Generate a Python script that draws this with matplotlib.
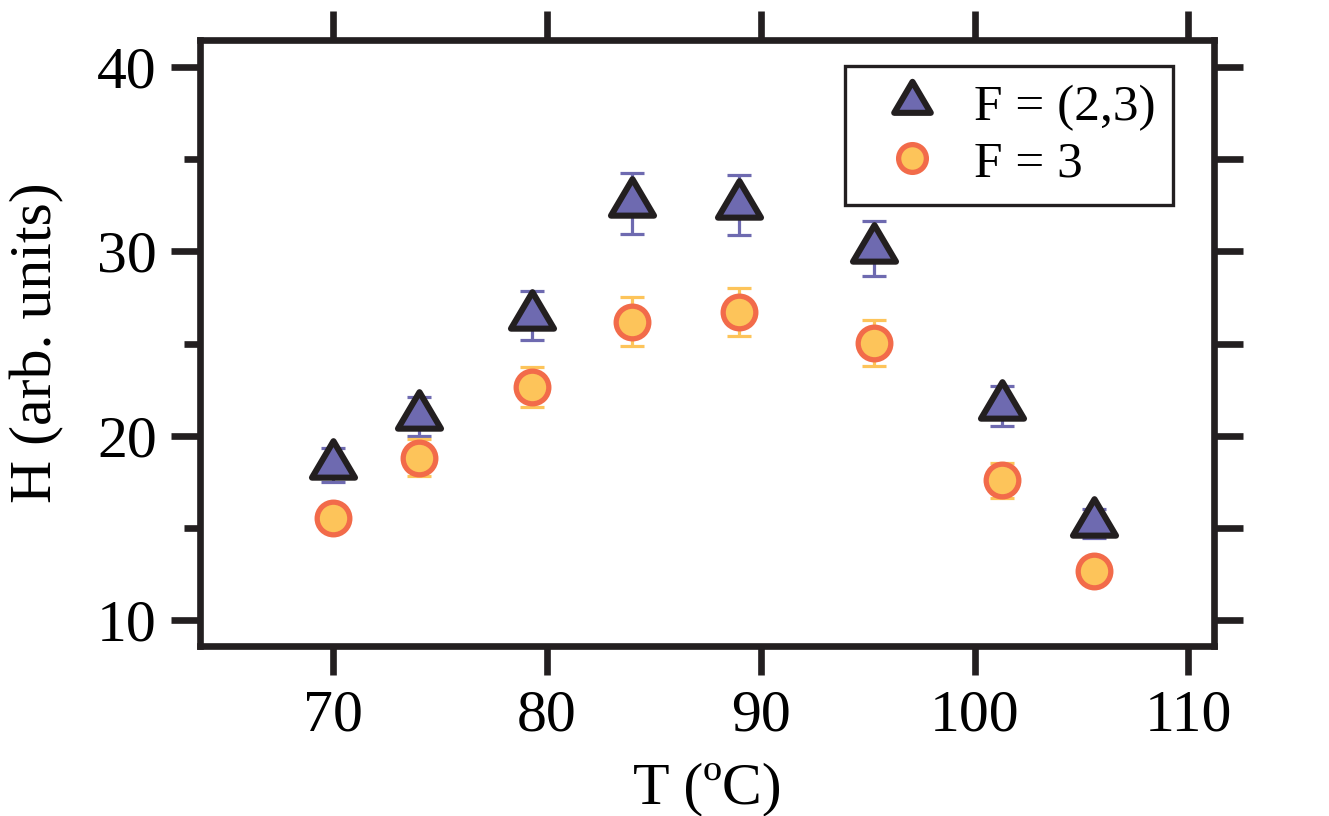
import numpy as np
import matplotlib
matplotlib.use('Agg')
from matplotlib import pyplot as plt
from matplotlib.path import Path
from matplotlib.markers import MarkerStyle

# Data
temp = [70.0, 74.0, 79.3, 84.0, 89.0, 95.3, 101.3, 105.6]
h_f23 = [18.42, 21.05, 26.52, 32.60, 32.51, 30.14, 21.61, 15.24]
err_f23 = [0.92, 1.06, 1.33, 1.63, 1.63, 1.50, 1.09, 0.81]
h_f3 = [15.55, 18.81, 22.64, 26.19, 26.72, 25.02, 17.59, 12.64]
err_f3 = [0.55, 1.00, 1.09, 1.31, 1.32, 1.25, 0.95, 0.50]

purple = '#6E6AB0'
dark = '#231F20'
yellow = '#FDC45A'
orange = '#F26B4A'

plt.rcParams['font.family'] = ['Liberation Serif', 'DejaVu Serif']

fig = plt.figure(figsize=(13.29, 8.16), dpi=100)
ax = fig.add_axes([0.1505, 0.2083, 0.763, 0.7427])

# triangle centred on its centroid (like the original software)
tri = MarkerStyle(Path([(0, 2/3), (-0.59, -1/3), (0.59, -1/3), (0, 2/3)],
                       [Path.MOVETO, Path.LINETO, Path.LINETO, Path.CLOSEPOLY]),
                  joinstyle='miter')

ax.errorbar(temp, h_f23, yerr=err_f23, fmt='none', ecolor=purple,
            elinewidth=2.3, capsize=8.3, capthick=2.3, zorder=2)
ax.plot(temp, h_f23, ls='none', marker=tri, ms=35, mfc=purple, mec=dark,
        mew=4.4, label='F = (2,3)', zorder=3)
ax.errorbar(temp, h_f3, yerr=err_f3, fmt='none', ecolor=yellow,
            elinewidth=2.3, capsize=8.3, capthick=2.3, zorder=2)
ax.plot(temp, h_f3, ls='none', marker='o', ms=23.5, mfc=yellow, mec=orange,
        mew=3.8, label='F = 3', zorder=3)

ax.set_xlim(63.78, 111.2)
ax.set_ylim(8.59, 41.47)
ax.set_xticks(np.arange(70, 111, 10))
ax.set_yticks(np.arange(10, 41, 10))
ax.set_yticks(np.arange(15, 40, 10), minor=True)

for s in ax.spines.values():
    s.set_linewidth(4.8)
    s.set_color(dark)

ax.tick_params(which='major', direction='out', length=21, width=4.8,
               color=dark, labelsize=43, pad=10)
ax.tick_params(which='minor', direction='out', length=11.5, width=4.8,
               color=dark)
ax.tick_params(axis='x', which='minor', bottom=False)

# outward ticks on top and right, no labels
top = ax.secondary_xaxis('top')
top.set_xticks(np.arange(70, 111, 10))
top.tick_params(direction='out', length=21, width=4.8, color=dark,
                labeltop=False)
top.spines['top'].set_visible(False)
right = ax.secondary_yaxis('right')
right.set_yticks(np.arange(10, 41, 5))
right.tick_params(direction='out', length=21, width=4.8, color=dark,
                  labelright=False)
right.spines['right'].set_visible(False)

ax.set_xlabel('T (ºC)', fontsize=43, labelpad=14)
ax.set_ylabel('H (arb. units)', fontsize=43, labelpad=24)

leg = ax.legend(loc='upper right', bbox_to_anchor=(0.96, 0.957),
                fontsize=37, frameon=True, fancybox=False, framealpha=1,
                markerscale=0.85, handlelength=1.9, handletextpad=0.25,
                labelspacing=0.18, borderpad=0.35, borderaxespad=0)
leg.get_frame().set_edgecolor(dark)
leg.get_frame().set_linewidth(2.4)

fig.savefig('out.png', dpi=100)
